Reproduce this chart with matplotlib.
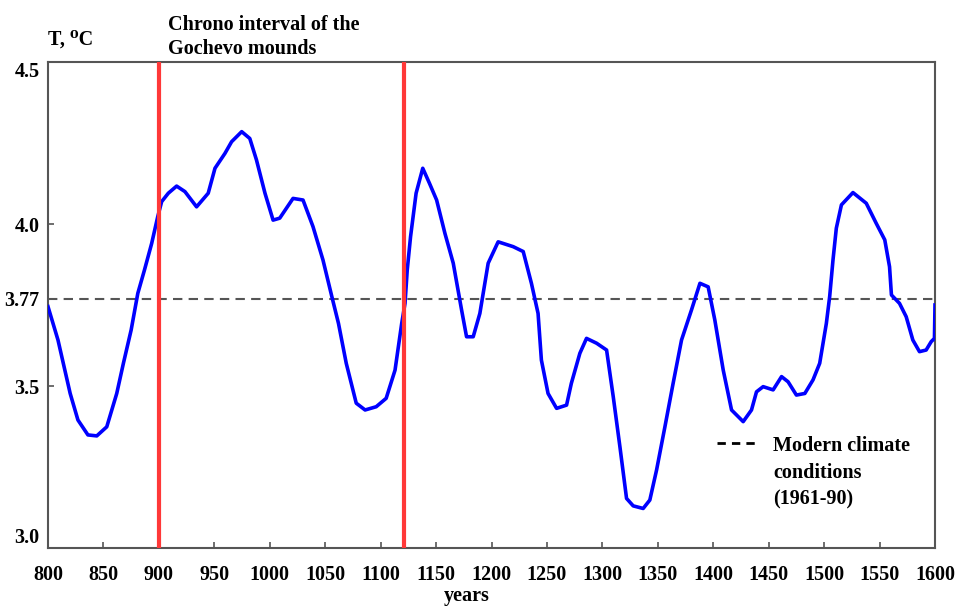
import matplotlib
matplotlib.use("Agg")
import matplotlib.pyplot as plt
from matplotlib.lines import Line2D

# reconstructed temperature curve
years = [800, 809, 820, 827, 836, 844, 853, 862, 868, 875, 881, 887, 893.5, 899,
         902.5, 908.5, 916, 923.5, 934, 944.5, 950.6, 959.6, 965.6, 974.7, 982,
         988, 995.7, 1003, 1009, 1021, 1030, 1039, 1048, 1056, 1062, 1069, 1078,
         1086, 1096, 1105, 1113, 1119, 1122, 1124, 1127, 1132, 1138, 1144, 1150.5,
         1158, 1165.5, 1173, 1177.5, 1183.5, 1189.5, 1197, 1206, 1219.6, 1228.6,
         1236, 1242, 1245, 1251, 1258.7, 1267.7, 1272, 1279.7, 1285.7, 1294.8,
         1303.8, 1309.8, 1315.8, 1321.8, 1327.8, 1336.8, 1342.8, 1348.9, 1356.4,
         1363.8, 1371.4, 1380.4, 1388, 1395.4, 1401.4, 1409, 1416.5, 1427, 1434.5,
         1439, 1445, 1454, 1461.6, 1467.5, 1475, 1482.6, 1490, 1496, 1502, 1505,
         1508, 1511, 1515.6, 1526, 1538, 1547, 1554.7, 1559, 1560.7, 1568, 1574,
         1580, 1586, 1592, 1596.6, 1599.5, 1600]
temp = [3.745, 3.642, 3.477, 3.395, 3.349, 3.346, 3.374, 3.477, 3.570, 3.673,
        3.786, 3.858, 3.940, 4.023, 4.069, 4.095, 4.117, 4.100, 4.053, 4.095,
        4.172, 4.218, 4.254, 4.285, 4.264, 4.198, 4.095, 4.012, 4.018, 4.079,
        4.074, 3.992, 3.889, 3.776, 3.693, 3.570, 3.447, 3.426, 3.436, 3.462,
        3.549, 3.693, 3.755, 3.858, 3.961, 4.095, 4.172, 4.126, 4.074, 3.971,
        3.879, 3.735, 3.652, 3.652, 3.724, 3.879, 3.945, 3.930, 3.915, 3.817,
        3.724, 3.580, 3.477, 3.431, 3.441, 3.508, 3.601, 3.647, 3.632, 3.611,
        3.467, 3.313, 3.153, 3.130, 3.122, 3.148, 3.241, 3.374, 3.508, 3.642,
        3.735, 3.817, 3.806, 3.704, 3.549, 3.426, 3.390, 3.426, 3.482, 3.498,
        3.488, 3.529, 3.513, 3.472, 3.477, 3.519, 3.570, 3.693, 3.776, 3.889,
        3.987, 4.059, 4.097, 4.064, 4.002, 3.951, 3.868, 3.781, 3.755, 3.714,
        3.642, 3.606, 3.611, 3.637, 3.647, 3.750]

modern_level = 3.77
interval = [900, 1121]
xticks = list(range(800, 1601, 50))
yticks = [3.0, 3.5, 3.77, 4.0, 4.5]
ytick_labels = ["3.0", "3.5", "3.77", "4.0", "4.5"]

plt.rcParams["font.family"] = ["Liberation Serif", "DejaVu Serif"]
plt.rcParams["font.weight"] = "bold"
FS = 14.5

fig = plt.figure(figsize=(9.55, 6.08), dpi=100)
ax = fig.add_axes([48 / 955, 60 / 608, 887 / 955, 486 / 608])

ax.plot(years, temp, color="#0000ff", lw=2.6, zorder=3)
ax.axhline(modern_level, color="#555555", lw=1.5, ls=(0, (4.5, 3)), zorder=2)
for yr in interval:
    ax.axvline(yr, color="#ff3838", lw=3, zorder=4)

ax.set_xlim(800, 1600)
ax.set_ylim(3.0, 4.5)
ax.set_xticks(xticks)
ax.set_xticklabels([str(t) for t in xticks], fontsize=FS, fontweight="bold")
ax.set_yticks(yticks)
ax.set_yticklabels(ytick_labels, fontsize=FS, fontweight="bold")
ax.tick_params(axis="both", direction="in", length=4, width=1.2, color="#555555")
ax.tick_params(axis="x", pad=12)
ax.tick_params(axis="y", pad=6)
labels = ax.get_yticklabels()
labels[0].set_va("bottom")
labels[-1].set_va("top")
for s in ax.spines.values():
    s.set_color("#555555")
    s.set_linewidth(1.5)

fig.text(48 / 955, 1 - 40 / 608, "T, ⁰C", fontsize=FS, fontweight="bold", va="center")
fig.text(168 / 955, 1 - 37 / 608, "Chrono interval of the\nGochevo mounds",
         fontsize=FS, fontweight="bold", va="center", linespacing=1.3)
fig.text(467 / 955, 1 - 596 / 608, "years", fontsize=FS, fontweight="bold",
         ha="center", va="center")

# legend for the dashed line
fig.add_artist(Line2D([717 / 955, 760 / 955], [1 - 443 / 608, 1 - 443 / 608],
                      color="black", lw=2, ls=(0, (3, 2.2))))
fig.text(773 / 955, 1 - 436 / 608, "Modern climate\nconditions\n(1961-90)",
         fontsize=FS, fontweight="bold", va="top", linespacing=1.45)

fig.savefig("out.png", dpi=100)
